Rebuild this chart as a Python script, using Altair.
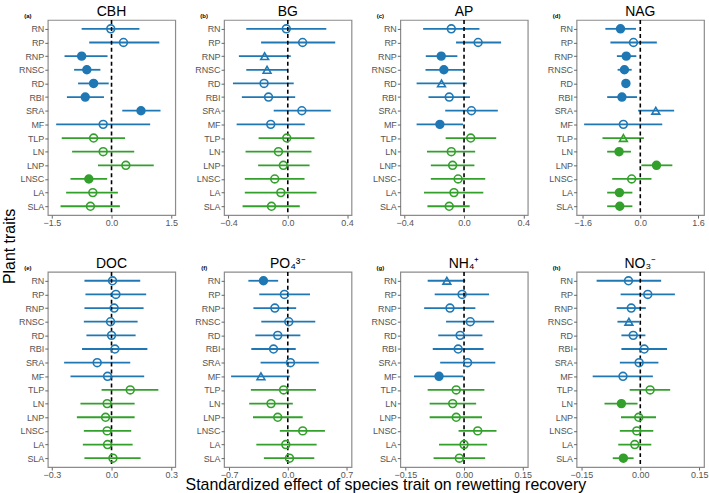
import altair as alt
import pandas as pd

FONT = "Liberation Sans"
BLUE = "#1f78b4"
GREEN = "#33a02c"

TRAITS = ["RN", "RP", "RNP", "RNSC", "RD", "RBI", "SRA", "MF",
          "TLP", "LN", "LNP", "LNSC", "LA", "SLA"]
GROUP = ["root"] * 8 + ["leaf"] * 6

# marker codes: F = filled circle, O = open circle, T = open triangle
CBH_EST = [-0.02, 0.30, -0.75, -0.62, -0.45, -0.66, 0.74, -0.21, -0.45, -0.21, 0.36, -0.57, -0.47, -0.53]
CBH_LO = [-0.75, -0.56, -1.18, -0.94, -0.84, -1.12, 0.27, -1.39, -1.25, -0.99, -0.34, -1.03, -1.14, -1.28]
CBH_HI = [0.70, 1.20, -0.10, -0.28, -0.07, -0.19, 1.23, 0.97, 0.34, 0.57, 1.06, -0.11, 0.16, 0.21]
CBH_SIG = ["O", "O", "F", "F", "F", "F", "F", "O", "O", "O", "O", "F", "O", "O"]

BG_EST = [-0.01, 0.10, -0.156, -0.14, -0.16, -0.13, 0.095, -0.115, -0.007, -0.063, -0.03, -0.088, -0.047, -0.11]
BG_LO = [-0.28, -0.18, -0.33, -0.28, -0.37, -0.31, -0.095, -0.345, -0.197, -0.285, -0.20, -0.29, -0.29, -0.305]
BG_HI = [0.26, 0.32, 0.02, 0.0, 0.04, 0.05, 0.29, 0.115, 0.18, 0.16, 0.147, 0.113, 0.194, 0.081]
BG_SIG = ["O", "O", "T", "T", "O", "O", "O", "O", "O", "O", "O", "O", "O", "O"]

AP_EST = [-0.086, 0.095, -0.154, -0.136, -0.152, -0.10, 0.05, -0.163, 0.045, -0.086, -0.077, -0.04, -0.068, -0.10]
AP_LO = [-0.276, -0.054, -0.258, -0.26, -0.32, -0.24, -0.127, -0.32, -0.124, -0.25, -0.224, -0.224, -0.27, -0.247]
AP_HI = [0.104, 0.25, -0.045, -0.007, 0.018, 0.04, 0.228, -0.007, 0.217, 0.075, 0.07, 0.143, 0.13, 0.038]
AP_SIG = ["O", "O", "F", "F", "T", "O", "O", "F", "O", "O", "O", "O", "O", "O"]

NAG_EST = [-0.55, -0.19, -0.39, -0.44, -0.40, -0.51, 0.43, -0.47, -0.47, -0.59, 0.45, -0.24, -0.58, -0.57]
NAG_LO = [-0.97, -0.83, -0.65, -0.63, -0.48, -0.92, -0.06, -1.56, -1.05, -0.92, 0.03, -0.78, -0.92, -0.92]
NAG_HI = [-0.12, 0.46, -0.11, -0.24, -0.32, -0.09, 0.94, 0.61, 0.10, -0.26, 0.89, 0.31, -0.22, -0.22]
NAG_SIG = ["F", "O", "F", "F", "F", "F", "T", "O", "T", "F", "F", "O", "F", "F"]

DOC_EST = [0.005, 0.022, 0.013, -0.005, 0.0, 0.017, -0.072, -0.02, 0.094, -0.022, -0.03, -0.022, -0.02, 0.007]
DOC_LO = [-0.136, -0.131, -0.136, -0.139, -0.126, -0.148, -0.238, -0.206, -0.05, -0.156, -0.174, -0.139, -0.144, -0.136]
DOC_HI = [0.144, 0.174, 0.161, 0.131, 0.121, 0.18, 0.094, 0.164, 0.235, 0.116, 0.116, 0.099, 0.106, 0.146]
DOC_SIG = ["O"] * 14

PO4_EST = [-0.29, -0.04, -0.154, 0.012, -0.12, -0.17, 0.032, -0.32, -0.05, -0.20, -0.12, 0.178, -0.024, 0.02]
PO4_LO = [-0.47, -0.34, -0.41, -0.316, -0.387, -0.435, -0.324, -0.676, -0.44, -0.46, -0.415, -0.095, -0.375, -0.285]
PO4_HI = [-0.115, 0.265, 0.10, 0.328, 0.15, 0.095, 0.37, 0.024, 0.336, 0.06, 0.178, 0.443, 0.344, 0.316]
PO4_SIG = ["F", "O", "O", "O", "O", "O", "O", "T", "O", "O", "O", "O", "O", "O"]

NH4_EST = [-0.044, -0.005, -0.036, 0.016, -0.01, -0.015, 0.009, -0.064, -0.02, -0.029, -0.02, 0.035, 0.0, -0.012]
NH4_LO = [-0.093, -0.075, -0.102, -0.046, -0.066, -0.08, -0.061, -0.128, -0.093, -0.088, -0.088, -0.014, -0.064, -0.078]
NH4_HI = [0.003, 0.064, 0.029, 0.077, 0.047, 0.05, 0.08, -0.002, 0.052, 0.031, 0.046, 0.083, 0.059, 0.054]
NH4_SIG = ["T", "O", "O", "O", "O", "O", "O", "F", "O", "O", "O", "O", "O", "O"]

NO3_EST = [-0.03, 0.019, -0.023, -0.029, -0.018, 0.01, -0.003, -0.044, 0.025, -0.048, -0.004, -0.009, -0.014, -0.043]
NO3_LO = [-0.111, -0.05, -0.06, -0.058, -0.048, -0.048, -0.052, -0.121, -0.027, -0.091, -0.049, -0.052, -0.056, -0.07]
NO3_HI = [0.053, 0.088, 0.014, -0.003, 0.013, 0.068, 0.046, 0.032, 0.076, -0.007, 0.04, 0.033, 0.028, -0.017]
NO3_SIG = ["O", "O", "O", "T", "O", "O", "O", "O", "O", "F", "O", "O", "O", "F"]


def panel(label, title, est, lo, hi, sig, dom, ticks, fmt, xtitle=None, ytitle=None):
    df = pd.DataFrame({"trait": TRAITS, "est": est, "lo": lo, "hi": hi,
                       "sig": sig, "grp": GROUP})
    df["col"] = [BLUE if g == "root" else GREEN for g in df["grp"]]
    df["fillc"] = [c if s == "F" else "transparent" for c, s in zip(df["col"], df["sig"])]
    df["shp"] = ["triangle-up" if s == "T" else "circle" for s in df["sig"]]

    xscale = alt.Scale(domain=dom, nice=False, zero=False)
    if xtitle:
        xaxis = alt.Axis(values=ticks, format=fmt, title=xtitle, titleX=162, titleY=18,
                         titleBaseline="middle", titleAlign="center", titleFontSize=16,
                         titleFontWeight="normal", titleColor="black")
    else:
        xaxis = alt.Axis(values=ticks, format=fmt, title=None)
    if ytitle:
        yaxis = alt.Axis(title=ytitle, titleX=-38, titleY=227, titleAngle=270,
                         titleBaseline="middle", titleAlign="center", titleFontSize=16,
                         titleFontWeight="normal", titleColor="black")
    else:
        yaxis = alt.Axis(title=None)
    yenc = alt.Y("trait:N", sort=TRAITS, scale=alt.Scale(type="point", padding=0.65), axis=yaxis)

    base = alt.Chart(df)
    err = base.mark_rule(strokeWidth=1.8).encode(
        x=alt.X("lo:Q", scale=xscale, axis=xaxis), x2="hi:Q", y=yenc,
        color=alt.Color("col:N", scale=None))
    zero = alt.Chart(pd.DataFrame({"z": [0]})).mark_rule(
        strokeDash=[4, 3], color="black", strokeWidth=1.6).encode(
        x=alt.X("z:Q", scale=xscale, axis=xaxis))
    pts = base.mark_point(size=62, strokeWidth=1.6, opacity=1).encode(
        x=alt.X("est:Q", scale=xscale, axis=xaxis), y=yenc,
        stroke=alt.Stroke("col:N", scale=None),
        fill=alt.Fill("fillc:N", scale=None),
        shape=alt.Shape("shp:N", scale=None))
    lab = alt.Chart(pd.DataFrame({"t": [label]})).mark_text(
        fontSize=6, fontWeight="bold", font=FONT, color="black", align="center").encode(
        x=alt.value(-20), y=alt.value(-4), text="t:N")
    return alt.layer(err, zero, pts, lab).properties(
        width=128, height=196,
        title=alt.TitleParams(title, anchor="middle", fontSize=14, fontWeight="normal",
                              font=FONT, color="black", offset=-6))


a = panel("(a)", "CBH", CBH_EST, CBH_LO, CBH_HI, CBH_SIG, [-1.6, 1.6], [-1.5, 0, 1.5], ".1f",
          ytitle="Plant traits")
b = panel("(b)", "BG", BG_EST, BG_LO, BG_HI, BG_SIG, [-0.43, 0.43], [-0.4, 0, 0.4], ".1f")
c = panel("(c)", "AP", AP_EST, AP_LO, AP_HI, AP_SIG, [-0.43, 0.43], [-0.4, 0, 0.4], ".1f")
d = panel("(d)", "NAG", NAG_EST, NAG_LO, NAG_HI, NAG_SIG, [-1.77, 1.77], [-1.6, 0, 1.6], ".1f")
e = panel("(e)", "DOC", DOC_EST, DOC_LO, DOC_HI, DOC_SIG, [-0.32, 0.32], [-0.3, 0, 0.3], ".1f")
f = panel("(f)", "PO₄³⁻", PO4_EST, PO4_LO, PO4_HI, PO4_SIG, [-0.76, 0.76], [-0.7, 0, 0.7], ".1f",
          xtitle="Standardized effect of species trait on rewetting recovery")
g = panel("(g)", "NH₄⁺", NH4_EST, NH4_LO, NH4_HI, NH4_SIG, [-0.163, 0.163], [-0.15, 0, 0.15], ".2f")
h = panel("(h)", "NO₃⁻", NO3_EST, NO3_LO, NO3_HI, NO3_SIG, [-0.162, 0.162], [-0.15, 0, 0.15], ".2f")

chart = alt.concat(a, b, c, d, e, f, g, h, columns=4,
                   spacing=alt.RowColnumber(row=57, column=49), bounds="flush").properties(
    padding={"left": 1, "top": 3, "right": 0, "bottom": 0}
).configure_view(stroke="#8c8c8c", strokeWidth=1.2).configure_axis(
    grid=False, domain=False, tickColor="#666666", tickSize=3, labelPadding=1,
    labelColor="#555555", labelFontSize=9, labelFont=FONT, titleFont=FONT
).configure_axisX(labelPadding=0)

chart.save("out.html", embed_options={"renderer": "svg", "actions": False})
